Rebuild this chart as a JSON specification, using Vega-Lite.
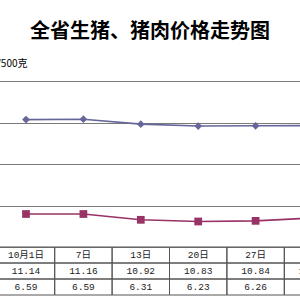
{
  "$schema": "https://vega.github.io/schema/vega-lite/v6.json",
  "width": 300,
  "height": 214,
  "autosize": {"type": "none"},
  "padding": {"left": 0, "top": 81, "right": 0, "bottom": 5},
  "background": "white",
  "title": {
    "text": "全省生猪、猪肉价格走势图",
    "fontSize": 20,
    "font": "Noto Sans CJK SC",
    "fontWeight": "bold",
    "color": "#000000",
    "anchor": "middle",
    "frame": "group",
    "offset": 16
  },
  "datasets": {
    "prices": [
      {"date": "10月1日", "pork": 11.14, "pig": 6.59},
      {"date": "7日", "pork": 11.16, "pig": 6.59},
      {"date": "13日", "pork": 10.92, "pig": 6.31},
      {"date": "20日", "pork": 10.83, "pig": 6.23},
      {"date": "27日", "pork": 10.84, "pig": 6.26},
      {"date": "3日", "pork": 10.85, "pig": 6.40}
    ]
  },
  "data": {"name": "prices"},
  "config": {"view": {"stroke": null}},
  "resolve": {"scale": {"y": "independent"}},
  "encoding": {
    "x": {
      "field": "date",
      "type": "nominal",
      "sort": null,
      "scale": {"type": "band", "range": [-2.7, 341.7], "paddingInner": 0, "paddingOuter": 0},
      "axis": null
    }
  },
  "layer": [
    {
      "transform": [{"fold": ["pork", "pig"], "as": ["series", "price"]}],
      "encoding": {
        "y": {
          "field": "price",
          "type": "quantitative",
          "scale": {"domain": [5, 13], "range": [166, 0]},
          "axis": {
            "values": [5, 7, 9, 11, 13],
            "grid": true,
            "gridColor": "#7a7a7a",
            "gridWidth": 1,
            "labels": false,
            "ticks": false,
            "domain": false,
            "title": "元/500克",
            "titleAngle": 0,
            "titleX": 27,
            "titleY": -18,
            "titleAlign": "right",
            "titleBaseline": "middle",
            "titleFontSize": 10,
            "titleFontWeight": "normal",
            "titleFont": "Noto Sans CJK SC",
            "titleColor": "#000000"
          }
        },
        "color": {
          "field": "series",
          "type": "nominal",
          "scale": {"domain": ["pork", "pig"], "range": ["#66669a", "#993366"]},
          "legend": null
        }
      },
      "layer": [
        {"mark": {"type": "line", "strokeWidth": 1.6}},
        {
          "mark": {"type": "point", "filled": true, "opacity": 1, "size": 60},
          "encoding": {
            "shape": {
              "field": "series",
              "type": "nominal",
              "scale": {"domain": ["pork", "pig"], "range": ["diamond", "square"]},
              "legend": null
            }
          }
        }
      ]
    },
    {
      "transform": [
        {"fold": ["date", "pork", "pig"], "as": ["row", "val"]},
        {"calculate": "datum.row === 'date' ? datum.val : format(datum.val, '.2f')", "as": "label"}
      ],
      "encoding": {
        "y": {
          "field": "row",
          "type": "nominal",
          "scale": {"type": "band", "domain": ["date", "pork", "pig"], "range": [166, 214], "paddingInner": 0, "paddingOuter": 0},
          "axis": null
        }
      },
      "layer": [
        {"mark": {"type": "rect", "filled": false, "color": "#555555", "strokeWidth": 1}},
        {
          "mark": {"type": "text", "font": "Liberation Mono, Noto Sans CJK SC", "fontSize": 9.5, "color": "#222222"},
          "encoding": {"text": {"field": "label"}}
        }
      ]
    }
  ]
}
